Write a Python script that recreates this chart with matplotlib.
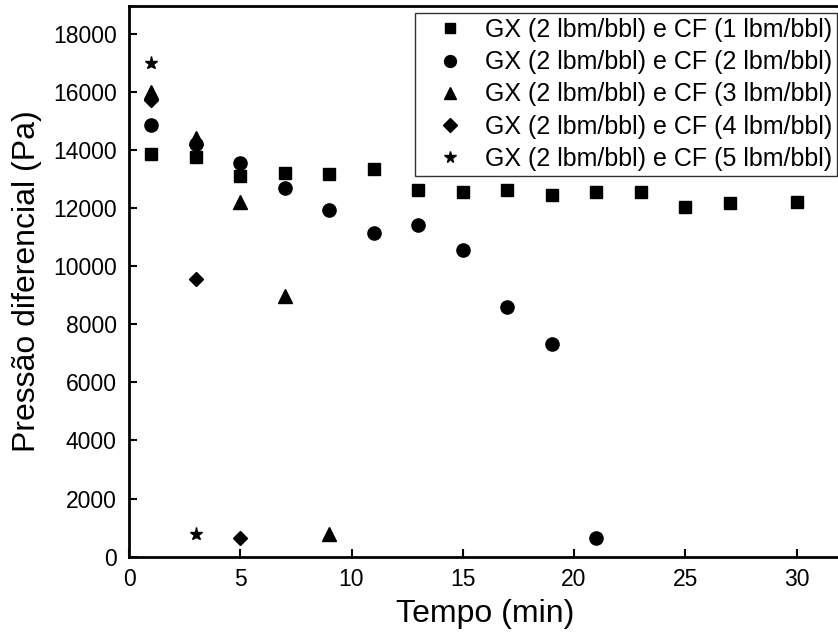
import matplotlib
matplotlib.use("Agg")
import matplotlib.pyplot as plt

plt.rcParams['font.family'] = ['Liberation Sans', 'DejaVu Sans']

labels = [
    "GX (2 lbm/bbl) e CF (1 lbm/bbl)",
    "GX (2 lbm/bbl) e CF (2 lbm/bbl)",
    "GX (2 lbm/bbl) e CF (3 lbm/bbl)",
    "GX (2 lbm/bbl) e CF (4 lbm/bbl)",
    "GX (2 lbm/bbl) e CF (5 lbm/bbl)",
]

t_cf1 = [1, 3, 5, 7, 9, 11, 13, 15, 17, 19, 21, 23, 25, 27, 30]
p_cf1 = [13850, 13750, 13100, 13190, 13170, 13330, 12620, 12560, 12620, 12440,
         12540, 12560, 12050, 12160, 12210]

t_cf2 = [1, 3, 5, 7, 9, 11, 13, 15, 17, 19, 21]
p_cf2 = [14860, 14200, 13560, 12680, 11930, 11150, 11410, 10550, 8580, 7320, 660]

t_cf3 = [1, 3, 5, 7, 9]
p_cf3 = [16000, 14400, 12210, 8970, 770]

t_cf4 = [1, 3, 5]
p_cf4 = [15710, 9550, 630]

t_cf5 = [1, 3]
p_cf5 = [16980, 770]

xticks = [0, 5, 10, 15, 20, 25, 30]
yticks = [0, 2000, 4000, 6000, 8000, 10000, 12000, 14000, 16000, 18000]

fig = plt.figure(figsize=(8.38, 6.37), dpi=100)
ax = fig.add_axes([129/838, 1-556.7/637, (841-129)/838, (556.7-5.7)/637])

series = [
    (t_cf1, p_cf1, 's', 8.5),
    (t_cf2, p_cf2, 'o', 9.5),
    (t_cf3, p_cf3, '^', 10),
    (t_cf4, p_cf4, 'D', 7.5),
    (t_cf5, p_cf5, '*', 9.5),
]
for (x, y, m, ms), lab in zip(series, labels):
    ax.plot(x, y, linestyle='none', marker=m, markersize=ms, color='black', label=lab)

ax.set_xlim(0, 32)
ax.set_ylim(0, 18960)
ax.set_xticks(xticks)
ax.set_yticks(yticks)
ax.tick_params(direction='in', length=6, width=1.5, labelsize=16.5, pad=8)
ax.tick_params(axis='y', pad=9)
for s in ax.spines.values():
    s.set_linewidth(2)
ax.spines['right'].set_visible(False)

ax.set_xlabel("Tempo (min)", fontsize=23, labelpad=6)
ax.set_ylabel("Pressão diferencial (Pa)", fontsize=23, labelpad=8)

leg = ax.legend(loc='upper right', bbox_to_anchor=(837/838, 1-13/637), bbox_transform=fig.transFigure,
                fontsize=18, frameon=True, fancybox=False, edgecolor='black',
                labelspacing=0.33, handletextpad=0.2, handlelength=2.4, borderpad=0.2,
                borderaxespad=0, markerscale=0.9)
leg.get_frame().set_linewidth(1.0)

fig.savefig("out.png", dpi=100)
